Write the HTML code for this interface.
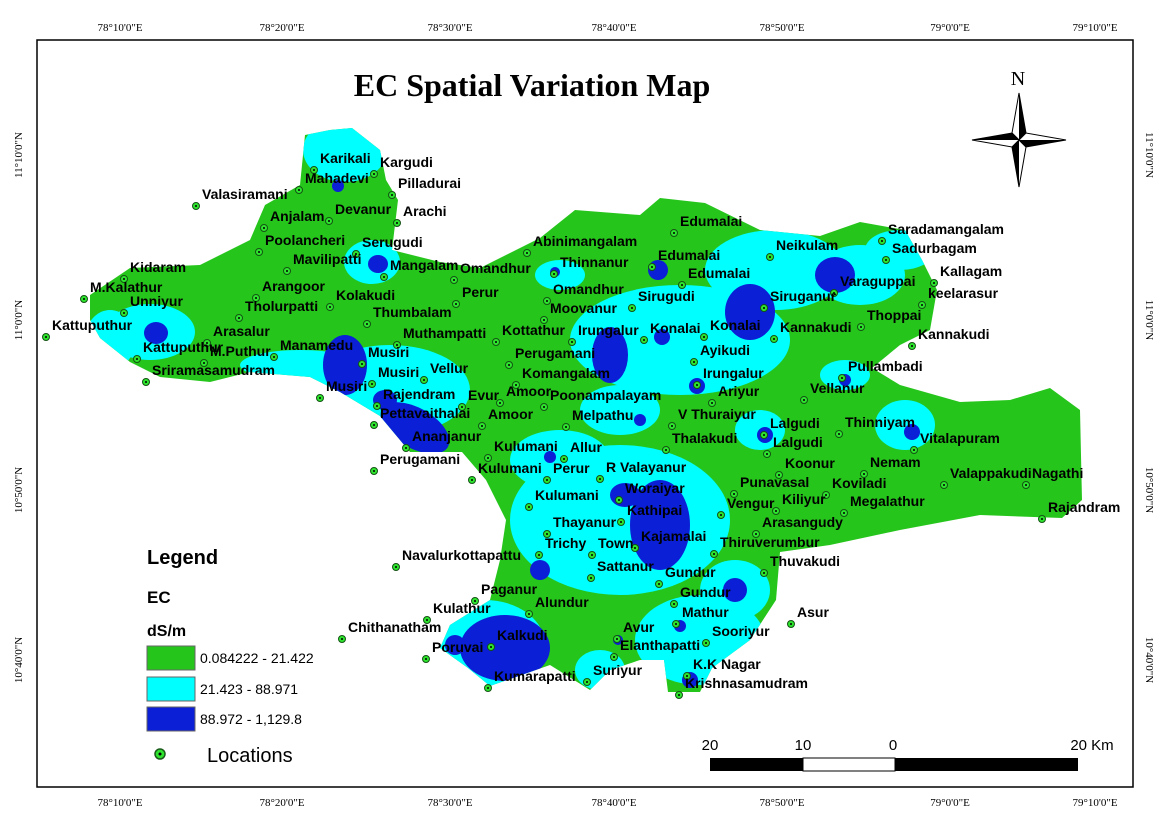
<!DOCTYPE html>
<html><head><meta charset="utf-8">
<style>
html,body{margin:0;padding:0;background:#fff;}
svg{display:block;font-family:"Liberation Sans",sans-serif;}
.lbl{font-weight:bold;font-size:14px;fill:#000;}
.tk{font-family:"Liberation Serif",serif;font-size:11px;fill:#000;}
</style></head>
<body>
<svg id="map" width="1170" height="827" viewBox="0 0 1170 827" xmlns="http://www.w3.org/2000/svg">
<rect x="0" y="0" width="1170" height="827" fill="#fff"/>
<rect x="37" y="40" width="1096" height="747" fill="none" stroke="#000" stroke-width="1.5"/>
<text x="532" y="96" text-anchor="middle" font-family="Liberation Serif,serif" font-weight="bold" font-size="32">EC Spatial Variation Map</text>
<defs>
<clipPath id="reg"><path d="M90,295 L130,268 L200,265 L250,240 L265,205 L300,185 L305,135 L330,130 L352,128 L380,150 L386,180 L398,200 L392,250 L440,262 L480,268 L540,238 L575,210 L640,215 L660,198 L705,203 L760,230 L820,236 L860,222 L905,230 L922,260 L937,290 L930,330 L900,345 L872,368 L900,385 L960,402 L1010,400 L1050,388 L1080,410 L1082,500 L1062,518 L980,515 L900,530 L830,545 L780,552 L776,600 L750,640 L712,668 L700,692 L668,692 L664,660 L640,660 L610,670 L590,690 L550,665 L490,686 L468,668 L440,648 L450,625 L490,600 L500,560 L506,520 L486,480 L462,452 L410,452 L380,416 L340,392 L310,377 L250,372 L210,382 L160,377 L130,362 L100,338 L90,320 Z"/></clipPath>
</defs>
<g>
<path d="M90,295 L130,268 L200,265 L250,240 L265,205 L300,185 L305,135 L330,130 L352,128 L380,150 L386,180 L398,200 L392,250 L440,262 L480,268 L540,238 L575,210 L640,215 L660,198 L705,203 L760,230 L820,236 L860,222 L905,230 L922,260 L937,290 L930,330 L900,345 L872,368 L900,385 L960,402 L1010,400 L1050,388 L1080,410 L1082,500 L1062,518 L980,515 L900,530 L830,545 L780,552 L776,600 L750,640 L712,668 L700,692 L668,692 L664,660 L640,660 L610,670 L590,690 L550,665 L490,686 L468,668 L440,648 L450,625 L490,600 L500,560 L506,520 L486,480 L462,452 L410,452 L380,416 L340,392 L310,377 L250,372 L210,382 L160,377 L130,362 L100,338 L90,320 Z" fill="#26c51c"/>
<g clip-path="url(#reg)" fill="#00ffff">
<ellipse cx="345" cy="150" rx="42" ry="32"/>
<ellipse cx="372" cy="262" rx="28" ry="22"/>
<ellipse cx="150" cy="332" rx="45" ry="28"/>
<ellipse cx="110" cy="340" rx="25" ry="30"/>
<ellipse cx="390" cy="390" rx="80" ry="45"/>
<ellipse cx="300" cy="365" rx="60" ry="15"/>
<ellipse cx="680" cy="340" rx="110" ry="55"/>
<ellipse cx="775" cy="270" rx="70" ry="40"/>
<ellipse cx="860" cy="275" rx="45" ry="30"/>
<ellipse cx="900" cy="250" rx="35" ry="20"/>
<ellipse cx="560" cy="275" rx="25" ry="15"/>
<ellipse cx="620" cy="520" rx="110" ry="75"/>
<ellipse cx="560" cy="460" rx="50" ry="30"/>
<ellipse cx="485" cy="645" rx="60" ry="45"/>
<ellipse cx="700" cy="640" rx="65" ry="45"/>
<ellipse cx="735" cy="590" rx="35" ry="30"/>
<ellipse cx="905" cy="425" rx="30" ry="25"/>
<ellipse cx="760" cy="430" rx="25" ry="20"/>
<ellipse cx="620" cy="410" rx="40" ry="25"/>
<ellipse cx="845" cy="375" rx="25" ry="15"/>
<ellipse cx="600" cy="670" rx="25" ry="20"/>
</g>
<g clip-path="url(#reg)" fill="#0a1fd6">
<ellipse cx="156" cy="333" rx="12" ry="11"/>
<ellipse cx="338" cy="186" rx="6" ry="6"/>
<ellipse cx="378" cy="264" rx="10" ry="9"/>
<ellipse cx="345" cy="365" rx="22" ry="30"/>
<ellipse cx="415" cy="428" rx="38" ry="20" transform="rotate(30 415 428)"/>
<ellipse cx="385" cy="400" rx="12" ry="10"/>
<ellipse cx="610" cy="355" rx="18" ry="28"/>
<ellipse cx="658" cy="270" rx="10" ry="10"/>
<ellipse cx="750" cy="312" rx="25" ry="28"/>
<ellipse cx="835" cy="275" rx="20" ry="18"/>
<ellipse cx="662" cy="337" rx="8" ry="8"/>
<ellipse cx="697" cy="386" rx="8" ry="8"/>
<ellipse cx="845" cy="380" rx="6" ry="6"/>
<ellipse cx="640" cy="420" rx="6" ry="6"/>
<ellipse cx="660" cy="525" rx="30" ry="45"/>
<ellipse cx="625" cy="495" rx="15" ry="12"/>
<ellipse cx="735" cy="590" rx="12" ry="12"/>
<ellipse cx="540" cy="570" rx="10" ry="10"/>
<ellipse cx="505" cy="648" rx="45" ry="33"/>
<ellipse cx="455" cy="645" rx="10" ry="10"/>
<ellipse cx="765" cy="435" rx="8" ry="8"/>
<ellipse cx="912" cy="432" rx="8" ry="8"/>
<ellipse cx="690" cy="680" rx="8" ry="8"/>
<ellipse cx="680" cy="626" rx="6" ry="6"/>
<ellipse cx="550" cy="457" rx="6" ry="6"/>
<ellipse cx="555" cy="272" rx="5" ry="5"/>
<ellipse cx="618" cy="640" rx="5" ry="5"/>
</g>
</g>
<g id="pts"></g>
<g id="labels"></g>
<g id="ticks"></g>

<g>
<text x="1018" y="85" text-anchor="middle" font-family="Liberation Serif,serif" font-size="20">N</text>
<polygon points="1019,93 1026,133 1019,140 1012,133" fill="#fff" stroke="#000"/>
<polygon points="1019,93 1026,133 1019,140" fill="#000"/>
<polygon points="1019,187 1012,147 1019,140 1026,147" fill="#fff" stroke="#000"/>
<polygon points="1019,187 1012,147 1019,140" fill="#000"/>
<polygon points="972,140 1012,133 1019,140 1012,147" fill="#fff" stroke="#000"/>
<polygon points="972,140 1012,133 1019,140" fill="#000"/>
<polygon points="1066,140 1026,147 1019,140 1026,133" fill="#fff" stroke="#000"/>
<polygon points="1066,140 1026,147 1019,140" fill="#000"/>
</g>

<g>
<text x="147" y="564" font-weight="bold" font-size="20">Legend</text>
<text x="147" y="603" font-weight="bold" font-size="17">EC</text>
<text x="147" y="636" font-weight="bold" font-size="16">dS/m</text>
<g><rect x="147" y="646" width="48" height="24" fill="#26c51c" stroke="#666"/><text x="200" y="663" font-size="14">0.084222 - 21.422</text></g>
<g><rect x="147" y="677" width="48" height="24" fill="#00ffff" stroke="#666"/><text x="200" y="694" font-size="14">21.423 - 88.971</text></g>
<g><rect x="147" y="707" width="48" height="24" fill="#0a1fd6" stroke="#666"/><text x="200" y="724" font-size="14">88.972 - 1,129.8</text></g>
<g><circle cx="160" cy="754" r="5" fill="#2ee52e" stroke="#1a5a1a" stroke-width="1.5"/><circle cx="160" cy="754" r="1.5" fill="#000"/><text x="207" y="762" font-size="20">Locations</text></g>
</g>

<g>
<rect x="710" y="758" width="93" height="13" fill="#000"/>
<rect x="803" y="758" width="92" height="13" fill="#fff" stroke="#000"/>
<rect x="895" y="758" width="183" height="13" fill="#000"/>
<text x="710" y="750" text-anchor="middle" font-size="15">20</text>
<text x="803" y="750" text-anchor="middle" font-size="15">10</text>
<text x="893" y="750" text-anchor="middle" font-size="15">0</text>
<text x="1092" y="750" text-anchor="middle" font-size="15">20 Km</text>
</g>
</svg>
<script>
const lonTicks = ["78°10'0\"E","78°20'0\"E","78°30'0\"E","78°40'0\"E","78°50'0\"E","79°0'0\"E","79°10'0\"E"];
const lonX = [120,282,450,614,782,950,1095];
const latTicks = ["11°10'0\"N","11°0'0\"N","10°50'0\"N","10°40'0\"N"];
const latY = [155,320,490,660];
const locNames = ["Karikali","Kargudi","Mahadevi","Pilladurai","Valasiramani","Devanur","Arachi","Anjalam","Serugudi","Poolancheri","Mavilipatti","Mangalam","Omandhur","Abinimangalam","Thinnanur","Edumalai","Edumalai","Edumalai","Neikulam","Saradamangalam","Sadurbagam","Kallagam","Varaguppai","keelarasur","Kidaram","M.Kalathur","Arangoor","Unniyur","Tholurpatti","Kolakudi","Perur","Omandhur","Sirugudi","Siruganur","Moovanur","Thumbalam","Thoppai","Kattuputhur","Arasalur","Muthampatti","Kottathur","Irungalur","Konalai","Konalai","Kannakudi","Kannakudi","Kattuputhur","M.Puthur","Manamedu","Musiri","Perugamani","Ayikudi","Sriramasamudram","Musiri","Vellur","Komangalam","Irungalur","Pullambadi","Musiri","Rajendram","Evur","Amoor","Poonampalayam","Ariyur","Vellanur","Pettavaithalai","Amoor","Melpathu","V Thuraiyur","Lalgudi","Thinniyam","Ananjanur","Kulumani","Allur","Thalakudi","Lalgudi","Vitalapuram","Perugamani","Kulumani","Perur","R Valayanur","Koonur","Nemam","Valappakudi","Nagathi","Punavasal","Koviladi","Woraiyar","Kulumani","Vengur","Kiliyur","Megalathur","Kathipai","Rajandram","Thayanur","Arasangudy","Trichy","Town","Kajamalai","Thiruverumbur","Navalurkottapattu","Thuvakudi","Sattanur","Gundur","Gundur","Paganur","Kulathur","Alundur","Mathur","Asur","Chithanatham","Avur","Sooriyur","Kalkudi","Elanthapatti","Poruvai","K.K Nagar","Suriyur","Kumarapatti","Krishnasamudram"];
const locX = [320,380,305,398,202,335,403,270,362,265,293,390,460,533,560,680,658,688,776,888,892,940,840,928,130,90,262,130,245,336,462,553,638,770,550,373,867,52,213,403,502,578,650,710,780,918,143,210,280,368,515,700,152,378,430,522,703,848,326,383,468,506,550,718,810,380,488,572,678,770,845,412,494,570,672,773,920,380,478,553,606,785,870,950,1032,740,832,625,535,727,782,850,627,1048,553,762,545,598,641,720,402,770,597,665,680,481,433,535,682,797,348,623,712,497,620,432,693,593,494,685];
const locY = [163,167,183,188,199,214,216,221,247,245,264,270,273,246,267,226,260,278,250,234,253,276,286,298,272,292,291,306,311,300,297,294,301,301,313,317,320,330,336,338,335,335,333,330,332,339,352,356,350,357,358,355,375,377,373,378,378,371,391,399,400,396,400,396,393,418,419,420,419,428,427,441,451,452,443,447,443,464,473,473,472,468,467,478,478,487,488,493,500,508,504,506,515,512,527,527,548,548,541,547,560,566,571,577,597,594,613,607,617,617,632,632,636,640,650,652,669,675,681,688];
const NS="http://www.w3.org/2000/svg";
const pts=document.getElementById('pts'), labels=document.getElementById('labels'), ticks=document.getElementById('ticks');
for(let i=0;i<locNames.length;i++){
  const c=document.createElementNS(NS,'circle');
  
  
  c.setAttribute('cx',locX[i]-6);c.setAttribute('cy',locY[i]+7);c.setAttribute('r',3.5);
  c.setAttribute('fill','#2ee52e');c.setAttribute('stroke','#145214');c.setAttribute('stroke-width','1');
  pts.appendChild(c);
  const d=document.createElementNS(NS,'circle');
  
  
  d.setAttribute('cx',locX[i]-6);d.setAttribute('cy',locY[i]+7);d.setAttribute('r',1);d.setAttribute('fill','#000');
  pts.appendChild(d);
  const t=document.createElementNS(NS,'text');
  
  
  t.setAttribute('class','lbl');t.setAttribute('x',locX[i]);t.setAttribute('y',locY[i]);
  t.textContent=locNames[i];
  labels.appendChild(t);
}
for(let i=0;i<lonTicks.length;i++){
  for(const y of [31,806]){
    const t=document.createElementNS(NS,'text');
    
    
    t.setAttribute('class','tk');t.setAttribute('x',lonX[i]);t.setAttribute('y',y);t.setAttribute('text-anchor','middle');
    t.textContent=lonTicks[i];ticks.appendChild(t);
  }
}
for(let i=0;i<latTicks.length;i++){
  for(const pair of [[22,-90],[1146,90]]){
    const x=pair[0], rot=pair[1];
    const t=document.createElementNS(NS,'text');
    
    
    t.setAttribute('class','tk');t.setAttribute('x',x);t.setAttribute('y',latY[i]);t.setAttribute('text-anchor','middle');
    t.setAttribute('transform','rotate('+rot+' '+x+' '+latY[i]+')');
    t.textContent=latTicks[i];ticks.appendChild(t);
  }
}
</script>
</body></html>
